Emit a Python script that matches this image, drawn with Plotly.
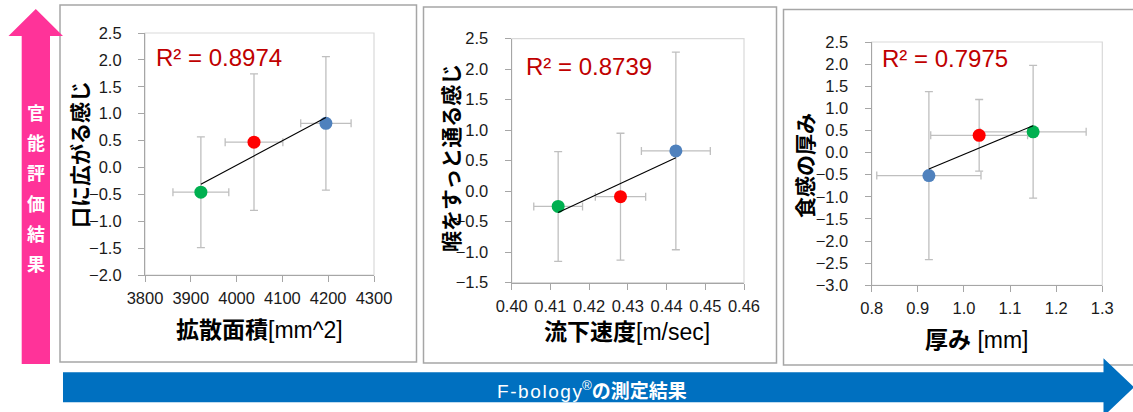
import numpy as np
import plotly.graph_objects as go

W, H = 1133, 412

# ---------------- data ----------------
sample_colors = ["#4F81BD", "#FF0000", "#00B050"]  # blue, red, green samples

# Panel 1: 拡散面積 vs 口に広がる感じ
p1_x = [4195, 4038, 3922]
p1_xerr = [55, 63, 61]
p1_y = [0.82, 0.47, -0.46]
p1_yerr = [1.24, 1.27, 1.03]

# Panel 2: 流下速度 vs 喉をすっと通る感じ
p2_x = [0.4424, 0.4281, 0.4120]
p2_xerr = [0.0089, 0.0065, 0.0063]
p2_y = [0.66, -0.09, -0.25]
p2_yerr = [1.62, 1.04, 0.90]

# Panel 3: 厚み vs 食感の厚み
p3_x = [0.924, 1.033, 1.150]
p3_xerr = [0.113, 0.105, 0.115]
p3_y = [-0.52, 0.39, 0.47]
p3_yerr = [1.90, 0.81, 1.50]

r2_labels = ["R² = 0.8974", "R² = 0.8739", "R² = 0.7975"]
y_titles = ["口に広がる感じ", "喉をすっと通る感じ", "食感の厚み"]
x_titles_bold = ["拡散面積", "流下速度", "厚み"]
x_titles_unit = ["[mm^2]", "[m/sec]", " [mm]"]
x_ranges = [[3800, 4300], [0.40, 0.46], [0.8, 1.3]]
x_dticks = [100, 0.01, 0.1]
x_formats = [".0f", ".2f", ".1f"]
y_ranges = [[-2.0, 2.5], [-1.5, 2.5], [-3.0, 2.5]]
left_label = "官能評価結果"
bottom_label_latin = "F-bology"
bottom_label_jp = "の測定結果"

panels = [
    (p1_x, p1_xerr, p1_y, p1_yerr),
    (p2_x, p2_xerr, p2_y, p2_yerr),
    (p3_x, p3_xerr, p3_y, p3_yerr),
]

# ---------------- layout helpers (pixel -> paper) ----------------
def px(x):
    return x / W

def py(y):
    return 1 - y / H

plot_boxes = [  # left, right, top, bottom in pixels
    (145, 374, 33, 275),
    (511.7, 744, 38.7, 282.7),
    (871.7, 1102.3, 42, 285.3),
]
frame_boxes = [
    (60, 416.5, 5, 362),
    (423.5, 776.5, 7, 363),
    (783.5, 1145, 9.5, 365),
]
r2_pos = [(154, 58), (524, 66.5), (880, 58.5)]
ytitle_pos = [(79, 155), (450, 158), (804, 166)]
xtitle_pos = [(259, 328), (627, 330), (977, 338)]

fig = go.Figure()
FONT = "Liberation Sans, Arial, Noto Sans CJK JP"
JFONT = "Noto Sans CJK JP, Liberation Sans"

shapes = []
annotations = []

# panel frames
for (l, r, t, b) in frame_boxes:
    shapes.append(dict(type="rect", xref="paper", yref="paper",
                       x0=px(l), x1=px(r), y0=py(b), y1=py(t),
                       line=dict(color="#A6A6A6", width=1.5), layer="below"))

for i, (xs, xe, ys, ye) in enumerate(panels):
    n = i + 1
    xa = "x" if n == 1 else f"x{n}"
    ya = "y" if n == 1 else f"y{n}"
    # error bars + markers
    fig.add_trace(go.Scatter(
        x=xs, y=ys, mode="markers", xaxis=xa, yaxis=ya,
        marker=dict(size=13, color=sample_colors, line=dict(width=0)),
        error_x=dict(type="data", array=xe, color="#BFBFBF", thickness=1.3, width=4),
        error_y=dict(type="data", array=ye, color="#BFBFBF", thickness=1.3, width=4),
        showlegend=False, hoverinfo="skip"))
    # linear trend line over data range
    k, c = np.polyfit(xs, ys, 1)
    tx = np.array([min(xs), max(xs)])
    fig.add_trace(go.Scatter(
        x=tx, y=k * tx + c, mode="lines", xaxis=xa, yaxis=ya,
        line=dict(color="black", width=1.1),
        showlegend=False, hoverinfo="skip"))

    l, r, t, b = plot_boxes[i]
    axis_common = dict(showgrid=False, zeroline=False, showline=True, automargin=False,
                       linecolor="#A6A6A6", linewidth=1.2,
                       ticks="outside", ticklen=6, tickcolor="#A6A6A6", tickwidth=1.2,
                       tickfont=dict(family=FONT, size=16.5, color="#1a1a1a"))
    fig.layout[f"xaxis{'' if n == 1 else n}"] = dict(
        domain=[px(l), px(r)], anchor=ya, range=x_ranges[i],
        dtick=x_dticks[i], tick0=x_ranges[i][0], tickformat=x_formats[i],
        ticklabelstandoff=2, **axis_common)
    fig.layout[f"yaxis{'' if n == 1 else n}"] = dict(
        domain=[py(b), py(t)], anchor=xa, range=y_ranges[i],
        dtick=0.5, tick0=0, tickformat=".1f", ticklabelstandoff=13, **axis_common)
    # light plot-area border
    shapes.append(dict(type="rect", xref="paper", yref="paper",
                       x0=px(l), x1=px(r), y0=py(b), y1=py(t),
                       line=dict(color="#D9D9D9", width=1.2), layer="below"))
    # R² label
    rx, ry = r2_pos[i]
    annotations.append(dict(xref="paper", yref="paper", x=px(rx), y=py(ry),
                            xanchor="left", yanchor="middle", showarrow=False,
                            text=r2_labels[i],
                            font=dict(family=FONT, size=24, color="#C00000")))
    # y title
    tx_, ty_ = ytitle_pos[i]
    annotations.append(dict(xref="paper", yref="paper", x=px(tx_), y=py(ty_),
                            xanchor="center", yanchor="middle", showarrow=False,
                            textangle=-90, text=f"<b>{y_titles[i]}</b>",
                            font=dict(family=JFONT, size=21, color="black")))
    # x title
    xx_, xy_ = xtitle_pos[i]
    annotations.append(dict(xref="paper", yref="paper", x=px(xx_), y=py(xy_),
                            xanchor="center", yanchor="middle", showarrow=False,
                            text=f"<b>{x_titles_bold[i]}</b>"
                                 f"<span style='font-family:Liberation Sans'>{x_titles_unit[i]}</span>",
                            font=dict(family=JFONT, size=23, color="black")))

# pink vertical arrow
def path(points):
    return "M " + " L ".join(f"{px(a):.5f},{py(b):.5f}" for a, b in points) + " Z"

shapes.append(dict(type="path", xref="paper", yref="paper",
                   path=path([(21.7, 364), (50, 364), (50, 36), (63, 36),
                              (35.8, 9), (8.5, 36), (21.7, 36)]),
                   fillcolor="#FF3399", line=dict(width=0), layer="below"))
for j, ch in enumerate(left_label):
    annotations.append(dict(xref="paper", yref="paper", x=px(36), y=py(112 + 30.2 * j),
                            xanchor="center", yanchor="middle", showarrow=False,
                            text=f"<b>{ch}</b>",
                            font=dict(family=JFONT, size=18, color="white")))

# blue horizontal arrow
shapes.append(dict(type="path", xref="paper", yref="paper",
                   path=path([(63, 372.3), (1103.5, 372.3), (1103.5, 358.3),
                              (1134, 387.3), (1103.5, 416.3), (1103.5, 402.3), (63, 402.3)]),
                   fillcolor="#0070C0", line=dict(width=0), layer="below"))
spaced = "\u200a".join(bottom_label_latin)
annotations.append(dict(xref="paper", yref="paper", x=px(592), y=py(389),
                        xanchor="center", yanchor="middle", showarrow=False,
                        text=f"{spaced}<sup>®</sup>"
                             f"<b><span style='font-family:Noto Sans CJK JP'>{bottom_label_jp}</span></b>",
                        font=dict(family=FONT, size=19, color="white")))

fig.update_layout(
    width=W, height=H,
    margin=dict(l=0, r=0, t=0, b=0),
    paper_bgcolor="white", plot_bgcolor="rgba(0,0,0,0)",
    shapes=shapes, annotations=annotations,
    showlegend=False,
)

fig.write_html("out.html",
               config={"displayModeBar": False},
               post_script="document.body.style.margin='0';"
                           "document.body.style.overflow='hidden';")
